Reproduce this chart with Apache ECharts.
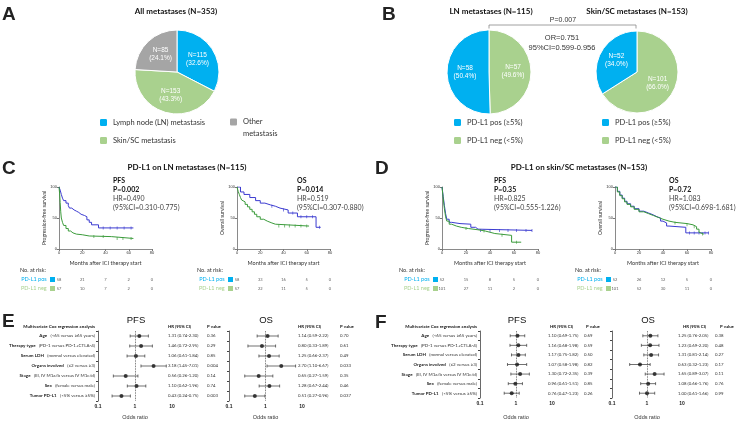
<!doctype html>
<html>
<head>
<meta charset="utf-8">
<title>PD-L1 expression and metastatic site</title>
<style>
html, body { margin: 0; padding: 0; background: #fff; }
#main { width: 738px; height: 423px; }
</style>
</head>
<body>
<div id="main"></div>
<script src="https://cdn.jsdelivr.net/npm/echarts@6/dist/echarts.min.js"></script>
<script>
var chart = echarts.init(document.getElementById('main'));

// ---- data ----
// A: metastatic sites
var siteNames = ['Lymph node (LN) metastasis', 'Skin/SC metastasis', 'Other\nmetastasis'];
var siteCounts = [115, 153, 85];
// B: PD-L1 status by site (neg first so it is drawn clockwise from 12 o'clock)
var pdl1Names = ['PD-L1 neg (<5%)', 'PD-L1 pos (\u22655%)'];
var lnCounts = [57, 58];
var skinCounts = [101, 52];

// C/D: Kaplan-Meier curves [month, survival %]
var cPfsPos = [[0,100],[1,95],[2,88],[3,82],[4,78],[6,74],[8,70],[9,66],[11,63],[13,61],[15,59],[17,56],[19,54],[22,52],[24,47],[26,43],[28,39],[34,34],[64,34]];
var cPfsNeg = [[0,100],[0.5,90],[1,75],[1.5,60],[2,50],[3,43],[4,38],[6,33],[8,29],[10,26],[12,24],[15,23],[20,21],[26,20],[45,17],[64,17]];
var cOsPos = [[0,100],[3,92],[6,88],[11,83],[16,78],[20,74],[24,71],[29,69],[33,66],[37,63],[44,58],[52,52],[68,35],[72,35]];
var cOsNeg = [[0,100],[1,93],[2,88],[3,83],[4,79],[5,76],[7,72],[9,68],[11,64],[13,60],[15,56],[17,52],[20,48],[23,45],[26,42],[30,40],[33,37],[62,37]];
var dPfsPos = [[0,100],[1,85],[2,70],[3,57],[4,48],[6,43],[8,41],[15,40],[24,35],[28,32],[30,30],[75,30]];
var dPfsNeg = [[0,100],[1,82],[2,65],[3,52],[4,45],[6,40],[8,37],[12,35],[16,33],[22,31],[30,29],[36,27],[40,25],[44,22],[58,11],[66,11]];
var dOsPos = [[0,100],[2,93],[4,87],[6,82],[8,77],[10,73],[13,69],[16,65],[20,61],[24,58],[28,55],[32,52],[35,50],[38,45],[40,42],[43,37],[45,35],[59,26],[78,26]];
var dOsNeg = [[0,100],[2,92],[4,86],[6,81],[8,76],[10,72],[13,68],[16,64],[20,60],[24,57],[28,54],[32,51],[36,48],[40,45],[45,43],[50,42],[55,41],[60,39],[65,36],[68,32],[70,27],[71,24],[74,24]];

// censoring times (months)
var cPfsPosCens = [38, 44, 50, 56, 62];
var cPfsNegCens = [30, 38, 50, 55, 62];
var cOsPosCens = [30, 40, 48, 55, 60, 65, 71];
var cOsNegCens = [36, 41, 45, 50, 55, 60];
var dPfsPosCens = [32, 40, 48, 55, 62, 70, 75];
var dPfsNegCens = [20, 35, 50, 62];
var dOsPosCens = [62, 66, 70, 75, 78];
var dOsNegCens = [50, 60, 66, 73];

// numbers at risk
var riskTimes = [0, 20, 40, 60, 80];
var cPfsRiskPos = [58, 21, 7, 2, 0];
var cPfsRiskNeg = [57, 10, 7, 2, 0];
var cOsRiskPos = [58, 33, 16, 5, 0];
var cOsRiskNeg = [57, 22, 11, 5, 0];
var dPfsRiskPos = [52, 15, 8, 5, 0];
var dPfsRiskNeg = [101, 27, 11, 2, 0];
var dOsRiskPos = [52, 26, 12, 5, 0];
var dOsRiskNeg = [101, 52, 30, 11, 0];

// E/F: multivariate Cox regression
var rowBold = ['Age', 'Therapy type', 'Serum LDH', 'Organs involved', 'Stage', 'Sex', 'Tumor PD-L1'];
var rowNote = ['(<65 versus \u226565 years)', '(PD-1 versus PD-1+CTLA-4)', '(normal versus elevated)', '(\u22642 versus \u22653)', '(III, IV M1a/b versus IV M1c/d)', '(female versus male)', '(<5% versus \u22655%)'];

var ePfsHr = [1.31, 1.46, 1.06, 3.18, 0.56, 1.10, 0.43];
var ePfsLo = [0.74, 0.72, 0.61, 1.45, 0.26, 0.62, 0.24];
var ePfsHi = [2.30, 2.95, 1.84, 7.01, 1.20, 1.96, 0.75];
var ePfsP = ['0.36', '0.29', '0.85', '0.004', '0.14', '0.74', '0.003'];

var eOsHr = [1.14, 0.80, 1.25, 2.70, 0.65, 1.28, 0.51];
var eOsLo = [0.59, 0.33, 0.66, 1.10, 0.27, 0.67, 0.27];
var eOsHi = [2.22, 1.89, 2.37, 6.67, 1.59, 2.44, 0.96];
var eOsP = ['0.70', '0.61', '0.49', '0.033', '0.35', '0.46', '0.037'];

var fPfsHr = [1.10, 1.16, 1.17, 1.07, 1.30, 0.96, 0.76];
var fPfsLo = [0.69, 0.68, 0.75, 0.58, 0.72, 0.61, 0.47];
var fPfsHi = [1.75, 1.98, 1.82, 1.98, 2.35, 1.51, 1.23];
var fPfsP = ['0.69', '0.59', '0.50', '0.82', '0.39', '0.85', '0.26'];

var fOsHr = [1.25, 1.23, 1.31, 0.63, 1.65, 1.08, 1.00];
var fOsLo = [0.76, 0.69, 0.81, 0.32, 0.89, 0.66, 0.61];
var fOsHi = [2.05, 2.20, 2.14, 1.23, 3.07, 1.76, 1.66];
var fOsP = ['0.38', '0.48', '0.27', '0.17', '0.11', '0.76', '0.99'];

// ---- styles ----
var FONT = 'Lato, "Liberation Sans", sans-serif';
var ARIAL = '"Liberation Sans", Arial, sans-serif';
var PIE_BLUE = '#00b0f0', PIE_GREEN = '#a9d18e', PIE_GRAY = '#a5a5a5';
var KM_BLUE = '#3b3bd0', KM_GREEN = '#3b9b3b';

var grid = [], xAxis = [], yAxis = [], series = [];

function pieData(names, counts, colors) {
    return counts.map(function (v, i) {
        return { name: names[i], value: v, itemStyle: { color: colors[i] } };
    });
}

function pieSeries(center, r, data) {
    return {
        type: 'pie', center: center, radius: r, startAngle: 90, clockwise: true,
        silent: true, data: data,
        itemStyle: { borderColor: '#fff', borderWidth: 1 },
        label: {
            show: true, position: 'inside', color: '#fff', fontSize: 6.5, lineHeight: 8, fontFamily: ARIAL,
            formatter: function (p) { return 'N=' + p.value + '\n(' + p.percent.toFixed(1) + '%)'; }
        },
        labelLine: { show: false }
    };
}

series.push(pieSeries([177, 72], 42, pieData(siteNames, siteCounts, [PIE_BLUE, PIE_GREEN, PIE_GRAY])));
series.push(pieSeries([489, 72], 42, pieData(pdl1Names, lnCounts, [PIE_GREEN, PIE_BLUE])));
series.push(pieSeries([637, 72], 41, pieData(pdl1Names, skinCounts, [PIE_GREEN, PIE_BLUE])));

// survival level of a step curve at time t
function levelAt(curve, t) {
    var s = curve[0][1];
    curve.forEach(function (pt) { if (pt[0] <= t) s = pt[1]; });
    return s;
}

// Kaplan-Meier plot plus its numbers-at-risk row
function addKm(left, width, yName, pos, neg, posCens, negCens, rPos, rNeg) {
    var g = grid.length;
    grid.push({ left: left, top: 187, width: width, height: 62 });
    xAxis.push({
        gridIndex: g, type: 'value', min: 0, max: 80, interval: 20,
        name: 'Months after ICI therapy start', nameLocation: 'middle', nameGap: 11,
        nameTextStyle: { fontSize: 5.5, fontFamily: FONT, color: '#333' },
        axisLine: { lineStyle: { color: '#8a8a8a', width: 1.2 } },
        axisTick: { length: 2, lineStyle: { color: '#777' } },
        axisLabel: { fontSize: 4, margin: 2, color: '#333' },
        splitLine: { show: false }
    });
    yAxis.push({
        gridIndex: g, type: 'value', min: 0, max: 100, interval: 50,
        name: yName, nameLocation: 'middle', nameGap: 12,
        nameTextStyle: { fontSize: 5, fontFamily: FONT, color: '#333' },
        axisLine: { show: true, lineStyle: { color: '#8a8a8a', width: 1 } },
        axisTick: { show: true, length: 2, lineStyle: { color: '#777' } },
        axisLabel: { fontSize: 4, margin: 2, color: '#333' },
        splitLine: { show: false }
    });
    [[pos, posCens, KM_BLUE], [neg, negCens, KM_GREEN]].forEach(function (s) {
        series.push({
            type: 'line', xAxisIndex: g, yAxisIndex: g, data: s[0], step: 'end',
            showSymbol: false, silent: true,
            lineStyle: { color: s[2], width: 1 }, itemStyle: { color: s[2] }
        });
        series.push({
            type: 'scatter', xAxisIndex: g, yAxisIndex: g, silent: true,
            symbol: 'rect', symbolSize: [0.8, 3], itemStyle: { color: s[2] },
            data: s[1].map(function (t) { return [t, levelAt(s[0], t)]; })
        });
    });

    var r = grid.length;
    grid.push({ left: left, top: 275, width: width, height: 18 });
    xAxis.push({ gridIndex: r, type: 'value', min: 0, max: 80, show: false });
    yAxis.push({
        gridIndex: r, type: 'category', inverse: true, data: ['pos', 'neg'],
        axisLine: { show: false }, axisTick: { show: false },
        axisLabel: {
            margin: 4, interval: 0,
            formatter: function (v) {
                return v === 'pos' ? '{tp|PD-L1 pos} {sp| }' : '{tn|PD-L1 neg} {sn| }';
            },
            rich: {
                tp: { color: PIE_BLUE, fontSize: 5.5, fontFamily: FONT },
                tn: { color: PIE_GREEN, fontSize: 5.5, fontFamily: FONT },
                sp: { backgroundColor: PIE_BLUE, width: 5, height: 5 },
                sn: { backgroundColor: PIE_GREEN, width: 5, height: 5 }
            }
        }
    });
    [[rPos, 0], [rNeg, 1]].forEach(function (s) {
        series.push({
            type: 'scatter', xAxisIndex: r, yAxisIndex: r, symbolSize: 0, silent: true,
            data: riskTimes.map(function (t, i) { return [t, s[1], s[0][i]]; }),
            label: {
                show: true, position: 'inside', fontSize: 4, color: '#333', fontFamily: FONT,
                formatter: function (p) { return String(p.value[2]); }
            }
        });
    });
}

addKm(59, 93, 'Progression-free survival', cPfsPos, cPfsNeg, cPfsPosCens, cPfsNegCens, cPfsRiskPos, cPfsRiskNeg);
addKm(237, 93, 'Overall survival', cOsPos, cOsNeg, cOsPosCens, cOsNegCens, cOsRiskPos, cOsRiskNeg);
addKm(442, 96, 'Progression-free survival', dPfsPos, dPfsNeg, dPfsPosCens, dPfsNegCens, dPfsRiskPos, dPfsRiskNeg);
addKm(615, 96, 'Overall survival', dOsPos, dOsNeg, dOsPosCens, dOsNegCens, dOsRiskPos, dOsRiskNeg);

function errorBar(params, api) {
    var a = api.coord([api.value(0), api.value(2)]);
    var b = api.coord([api.value(1), api.value(2)]);
    var st = { stroke: '#333', lineWidth: 0.7 };
    return {
        type: 'group', children: [
            { type: 'line', shape: { x1: a[0], y1: a[1], x2: b[0], y2: b[1] }, style: st },
            { type: 'line', shape: { x1: a[0], y1: a[1] - 1.5, x2: a[0], y2: a[1] + 1.5 }, style: st },
            { type: 'line', shape: { x1: b[0], y1: b[1] - 1.5, x2: b[0], y2: b[1] + 1.5 }, style: st }
        ]
    };
}

// forest plot with its HR / P value columns
function addForest(left, width, height, hr, lo, hi, p, showRows, axisColor, axisWidth, hrWidth, nameGap) {
    var g = grid.length;
    grid.push({ left: left, top: 331, width: width, height: height });
    xAxis.push({
        gridIndex: g, type: 'log', logBase: 10, min: 0.1, max: 10,
        name: 'Odds ratio', nameLocation: 'middle', nameGap: nameGap,
        nameTextStyle: { fontSize: 5.5, fontFamily: ARIAL, color: '#333' },
        axisLine: { lineStyle: { color: axisColor, width: axisWidth } },
        axisTick: { length: 2, lineStyle: { color: '#555' } },
        axisLabel: { fontSize: 5, margin: 3, color: '#222', fontFamily: ARIAL, fontWeight: 'bold' },
        splitLine: { show: false }, minorTick: { show: false }
    });
    yAxis.push({
        gridIndex: g, type: 'category', inverse: true, data: rowBold,
        axisLine: { show: true, lineStyle: { color: '#444', width: 0.8 } },
        axisTick: { show: true, length: 2, interval: 0, lineStyle: { color: '#444' } },
        axisLabel: {
            show: showRows, margin: 3, interval: 0,
            formatter: function (v, i) { return '{b|' + v + '} {n|' + rowNote[i] + '}'; },
            rich: {
                b: { fontWeight: 'bold', fontSize: 4.5, fontFamily: FONT, color: '#222' },
                n: { fontSize: 4.5, fontFamily: FONT, color: '#333' }
            }
        }
    });
    yAxis.push({
        gridIndex: g, type: 'category', inverse: true, position: 'right', data: rowBold,
        axisLine: { show: false }, axisTick: { show: false },
        axisLabel: {
            margin: -4, align: 'left', interval: 0,
            formatter: function (v, i) {
                return '{h|' + hr[i].toFixed(2) + ' (' + lo[i].toFixed(2) + '-' + hi[i].toFixed(2) + ')}{p|' + p[i] + '}';
            },
            rich: {
                h: { width: hrWidth, fontSize: 4.3, fontFamily: FONT, color: '#333' },
                p: { fontSize: 4.3, fontFamily: FONT, color: '#333' }
            }
        }
    });
    var yi = yAxis.length - 2;
    series.push({
        type: 'custom', xAxisIndex: g, yAxisIndex: yi, silent: true,
        renderItem: errorBar, encode: { x: [0, 1], y: 2 },
        data: hr.map(function (v, i) { return [lo[i], hi[i], i]; })
    });
    series.push({
        type: 'scatter', xAxisIndex: g, yAxisIndex: yi, silent: true, symbolSize: 4,
        itemStyle: { color: '#111' },
        data: hr.map(function (v, i) { return [v, i]; }),
        markLine: {
            silent: true, symbol: 'none', label: { show: false },
            lineStyle: { type: 'dotted', color: '#444', width: 0.8 },
            data: [{ xAxis: 1 }]
        }
    });
}

addForest(98, 74, 70, ePfsHr, ePfsLo, ePfsHi, ePfsP, true, '#9a9a9a', 2, 39, 13);
addForest(229, 73, 70, eOsHr, eOsLo, eOsHi, eOsP, false, '#9a9a9a', 2, 42, 13);
addForest(480, 72, 67, fPfsHr, fPfsLo, fPfsHi, fPfsP, true, '#555', 1, 36, 16);
addForest(612, 70, 67, fOsHr, fOsLo, fOsHi, fOsP, false, '#555', 1, 37, 16);

// ---- free text ----
function txt(x, y, s, font, fill, align) {
    align = align || 'left';
    return {
        type: 'text', x: x, y: y, silent: true,
        style: { text: s, font: font, fill: fill || '#222', align: align, verticalAlign: 'middle', textAlign: align, textVerticalAlign: 'middle' }
    };
}
var LETTER = 'bold 19px ' + ARIAL;
var TITLE = 'bold 8px ' + FONT;
var STAT_B = 'bold 7px ' + FONT;
var STAT = '7px ' + FONT;
var HEAD = 'bold 4.5px ' + FONT;
var SMALLHEAD = 'bold 4.3px ' + FONT;
var BIG = '9.5px ' + ARIAL;

var graphics = [
    txt(2, 15, 'A', LETTER), txt(382, 15, 'B', LETTER),
    txt(2, 169, 'C', LETTER), txt(375, 169, 'D', LETTER),
    txt(2, 322, 'E', LETTER), txt(375, 323, 'F', LETTER),
    txt(176, 11, 'All metastases (N=353)', TITLE, '#111', 'center'),
    txt(491, 11, 'LN metastases (N=115)', TITLE, '#111', 'center'),
    txt(637, 11, 'Skin/SC metastases (N=153)', TITLE, '#111', 'center'),
    txt(563, 20.5, 'P=0.007', '7px ' + ARIAL, '#333', 'center'),
    txt(562, 37.5, 'OR=0.751', '7.5px ' + ARIAL, '#333', 'center'),
    txt(562, 48, '95%CI=0.599-0.956', '7.5px ' + ARIAL, '#333', 'center'),
    {
        type: 'polyline', silent: true,
        shape: { points: [[489, 28.5], [489, 25], [636, 25], [636, 28.5]] },
        style: { stroke: '#888', fill: null, lineWidth: 0.8 }
    },
    txt(187, 167, 'PD-L1 on LN metastases (N=115)', TITLE, '#111', 'center'),
    txt(579, 167, 'PD-L1 on skin/SC metastases (N=153)', TITLE, '#111', 'center')
];

function stats(x, lines) {
    graphics.push(txt(x, 181, lines[0], STAT_B, '#111'));
    graphics.push(txt(x, 190, lines[1], STAT_B, '#111'));
    graphics.push(txt(x, 199, lines[2], STAT, '#444'));
    graphics.push(txt(x, 208, lines[3], STAT, '#444'));
}
stats(113, ['PFS', 'P=0.002', 'HR=0.490', '(95%CI=0.310-0.775)']);
stats(297, ['OS', 'P=0.014', 'HR=0.519', '(95%CI=0.307-0.880)']);
stats(494, ['PFS', 'P=0.35', 'HR=0.825', '(95%CI=0.555-1.226)']);
stats(669, ['OS', 'P=0.72', 'HR=1.083', '(95%CI=0.698-1.681)']);

[20, 197, 399, 575].forEach(function (x) {
    graphics.push(txt(x, 270, 'No. at risk:', '5.5px ' + FONT, '#333'));
});

[[95, 136, 266, 168, 207, 298, 340], [477, 517, 648, 550, 586, 683, 720]].forEach(function (c) {
    graphics.push(txt(c[0], 327, 'Multivariate Cox regression analysis', HEAD, '#111', 'right'));
    graphics.push(txt(c[1], 320, 'PFS', BIG, '#111', 'center'));
    graphics.push(txt(c[2], 320, 'OS', BIG, '#111', 'center'));
    graphics.push(txt(c[3], 327, 'HR (95% CI)', SMALLHEAD, '#111'));
    graphics.push(txt(c[4], 327, 'P value', SMALLHEAD, '#111'));
    graphics.push(txt(c[5], 327, 'HR (95% CI)', SMALLHEAD, '#111'));
    graphics.push(txt(c[6], 327, 'P value', SMALLHEAD, '#111'));
});

var legendBase = {
    orient: 'vertical', itemWidth: 9, itemHeight: 9, itemGap: 7, icon: 'roundRect',
    selectedMode: false, padding: 0,
    textStyle: { fontSize: 7.5, fontFamily: FONT, color: '#333' }
};
function legendAt(left, top, names, extra) {
    return Object.assign({}, legendBase, { left: left, top: top, data: names }, extra || {});
}

chart.setOption({
    animation: false,
    backgroundColor: '#fff',
    legend: [
        legendAt(98, 117, [siteNames[0], siteNames[1]]),
        // blank first line keeps "Other" level with its colour square
        legendAt(228, 104, [siteNames[2]], {
            formatter: function (name) { return ' \n' + name; },
            textStyle: { fontSize: 7.5, fontFamily: FONT, color: '#333', lineHeight: 12 }
        }),
        legendAt(452, 117, [pdl1Names[1], pdl1Names[0]]),
        legendAt(600, 117, [pdl1Names[1], pdl1Names[0]])
    ],
    grid: grid,
    xAxis: xAxis,
    yAxis: yAxis,
    series: series,
    graphic: graphics
});

window.addEventListener('resize', function () {
    chart.resize();
});
</script>
</body>
</html>
